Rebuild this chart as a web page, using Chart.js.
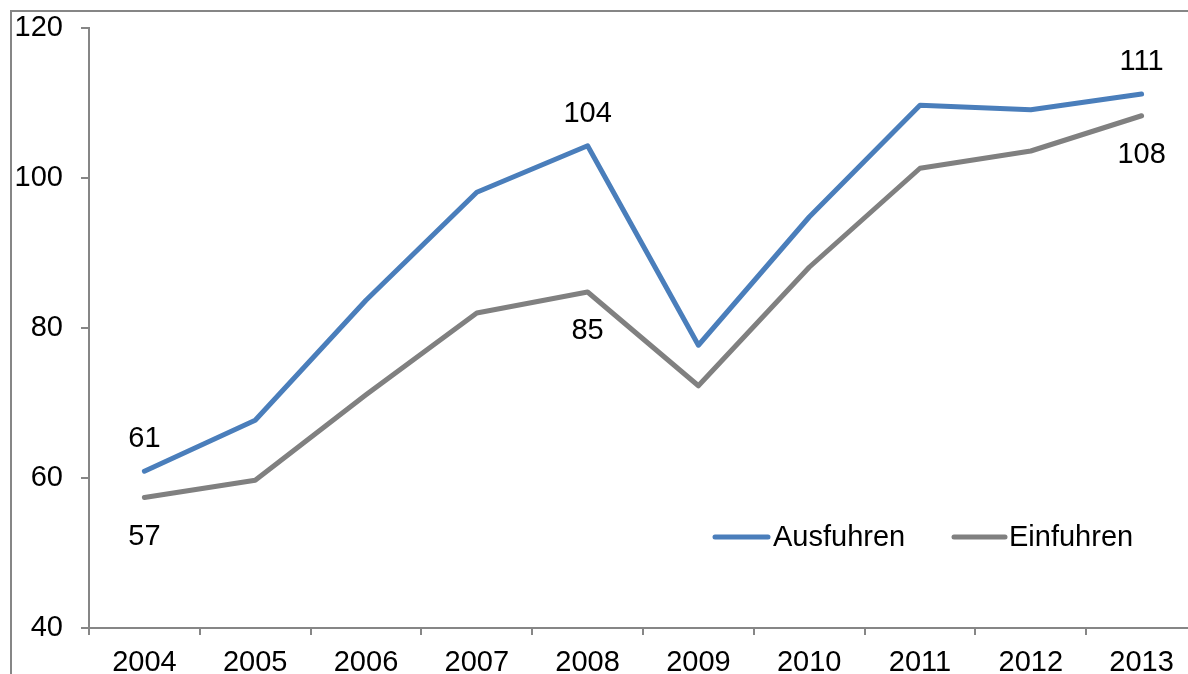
<!DOCTYPE html>
<html>
<head>
<meta charset="utf-8">
<script src="https://cdn.jsdelivr.net/npm/chart.js@4/dist/chart.umd.min.js"></script>
<style>
html,body{margin:0;padding:0;overflow:hidden;background:#fff;width:1188px;height:674px;}
canvas{display:block;}
</style>
</head>
<body>
<canvas id="c" width="1230" height="700"></canvas>
<script>
const categories = ['2004','2005','2006','2007','2008','2009','2010','2011','2012','2013'];
const ausfuhren = [60.9, 67.7, 83.7, 98.1, 104.3, 77.7, 94.8, 109.7, 109.1, 111.2];
const einfuhren = [57.4, 59.7, 71.1, 82.0, 84.8, 72.3, 88.1, 101.3, 103.6, 108.3];
const yTicks = [40, 60, 80, 100, 120];
const seriesNames = ['Ausfuhren', 'Einfuhren'];
const labelIdx = [0, 4, 9];

const FONT = '"Liberation Sans", Arial, sans-serif';
const FS = 29;
const AXIS = '#868686';
const BLUE = '#4A7EBB';
const GRAY = '#808080';

const borderPlugin = {
  id: 'frame',
  beforeDraw(chart) {
    const ctx = chart.ctx;
    ctx.save();
    ctx.fillStyle = '#fff';
    ctx.fillRect(0, 0, chart.width, chart.height);
    ctx.strokeStyle = AXIS;
    ctx.lineWidth = 2;
    ctx.strokeRect(11, 11, 3000, 3000);
    ctx.restore();
  }
};

const labelPlugin = {
  id: 'valueLabels',
  afterDatasetsDraw(chart) {
    const ctx = chart.ctx;
    ctx.save();
    ctx.font = FS + 'px ' + FONT;
    ctx.fillStyle = '#000';
    ctx.textAlign = 'center';
    ctx.textBaseline = 'middle';
    chart.data.datasets.forEach((ds, di) => {
      const meta = chart.getDatasetMeta(di);
      labelIdx.forEach(i => {
        const p = meta.data[i];
        const dy = di === 0 ? -32 : 39;
        ctx.fillText(String(Math.round(ds.data[i])), p.x, p.y + dy);
      });
    });
    // legend
    const items = [
      {x1: 715, x2: 768, tx: 773, color: BLUE, text: seriesNames[0]},
      {x1: 954, x2: 1005, tx: 1009, color: GRAY, text: seriesNames[1]}
    ];
    const ly = 537;
    items.forEach(it => {
      ctx.strokeStyle = it.color;
      ctx.lineWidth = 5;
      ctx.lineCap = 'round';
      ctx.beginPath();
      ctx.moveTo(it.x1, ly);
      ctx.lineTo(it.x2, ly);
      ctx.stroke();
      ctx.textAlign = 'left';
      ctx.fillText(it.text, it.tx, ly + 1);
    });
    ctx.restore();
  }
};

new Chart(document.getElementById('c'), {
  type: 'line',
  data: {
    labels: categories,
    datasets: [
      {label: seriesNames[0], data: ausfuhren, borderColor: BLUE, backgroundColor: BLUE, borderWidth: 5,
       pointRadius: 0, tension: 0, borderCapStyle: 'round', borderJoinStyle: 'round'},
      {label: seriesNames[1], data: einfuhren, borderColor: GRAY, backgroundColor: GRAY, borderWidth: 5,
       pointRadius: 0, tension: 0, borderCapStyle: 'round', borderJoinStyle: 'round'}
    ]
  },
  options: {
    responsive: false,
    animation: false,
    devicePixelRatio: 1,
    layout: {padding: {left: 0, top: 28, right: 33, bottom: 0}},
    plugins: {legend: {display: false}, tooltip: {enabled: false}},
    scales: {
      x: {
        offset: true,
        grid: {offset: true, drawOnChartArea: false, drawTicks: true, tickLength: 7, color: AXIS, lineWidth: 2},
        border: {color: AXIS, width: 2},
        ticks: {font: {family: FONT, size: FS}, color: '#000', padding: 11, maxRotation: 0, autoSkip: false},
        afterFit(s) { s.height = 72; s.paddingLeft = 0; s.paddingRight = 0; }
      },
      y: {
        min: 40, max: 120,
        afterBuildTicks(s) { s.ticks = yTicks.map(v => ({value: v})); },
        grid: {drawOnChartArea: false, drawTicks: true, tickLength: 8, color: AXIS, lineWidth: 2},
        border: {color: AXIS, width: 2},
        ticks: {font: {family: FONT, size: FS}, color: '#000', padding: 18},
        afterFit(s) { s.width = 89; s.paddingTop = 0; s.paddingBottom = 0; }
      }
    }
  },
  plugins: [borderPlugin, labelPlugin]
});
</script>
</body>
</html>
